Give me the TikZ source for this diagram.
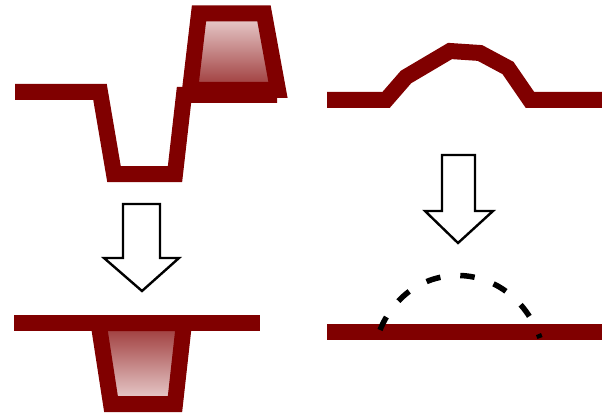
\documentclass[tikz,border=0pt]{standalone}
\definecolor{maroon}{RGB}{128,0,0}
\definecolor{lightfill}{RGB}{236,212,212}
\definecolor{darkfill}{RGB}{155,52,52}
\begin{document}
\begin{tikzpicture}[x=1pt,y=-1pt,
  layer/.style={draw=maroon, line width=16pt, line join=miter},
  bigarrow/.style={draw=black, fill=white, line width=2.4pt, line join=miter},
  outline/.style={draw=black, line width=5.5pt, dash pattern=on 14.5pt off 20pt}]
\useasboundingbox (0,0) rectangle (602,417);

% top left: trench + bump material
\path[layer, top color=lightfill, bottom color=darkfill]
  (199,13.5) -- (264,13.5) -- (278,90) -- (190,90) -- cycle;
\draw[layer] (15,92) -- (100,92) -- (114,174) -- (175,174) -- (184,95) -- (277,95);

% left arrow
\draw[bigarrow] (123,204) -- (160,204) -- (160,258) -- (179,258) -- (142,291)
  -- (104,258) -- (123,258) -- cycle;

% bottom left: filled trench
\path[layer, top color=darkfill, bottom color=lightfill]
  (98.5,323) -- (184,323) -- (175,404) -- (111,404) -- cycle;
\draw[layer] (14,323) -- (260,323);

% top right: bump
\draw[layer] (327,100) -- (386,100) -- (406,77) -- (450,51) -- (480,53)
  -- (508,68) -- (530,100) -- (602,100);

% right arrow
\draw[bigarrow] (442,155) -- (475,155) -- (475,211) -- (493,211) -- (458,243)
  -- (425,211) -- (442,211) -- cycle;

% bottom right: flattened with dashed former profile
\draw[layer] (327,332) -- (602,332);
\draw[outline] (380,330) .. controls (410,256) and (510,256) .. (540,338);
\end{tikzpicture}
\end{document}
